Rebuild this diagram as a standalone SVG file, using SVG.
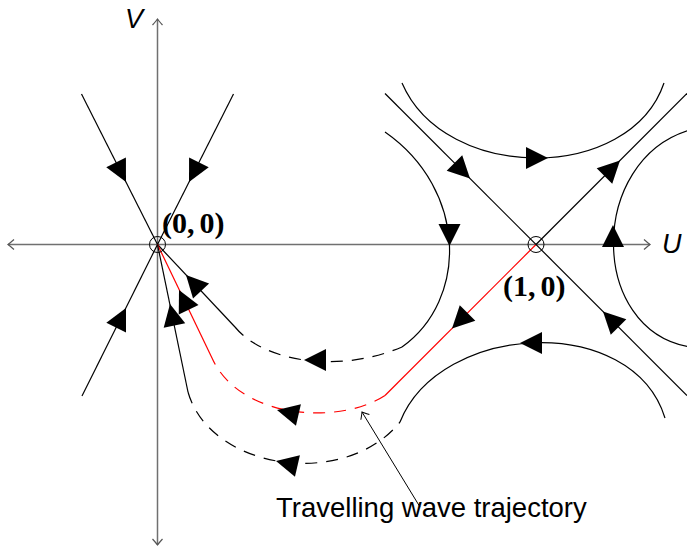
<svg xmlns="http://www.w3.org/2000/svg" xmlns:xlink="http://www.w3.org/1999/xlink" width="687" height="548" viewBox="0 0 687 548">
<style>
.axis{stroke:#707070;stroke-width:1.5;fill:none}
.traj{stroke:#000;stroke-width:1.2;fill:none}
.red{stroke:#ff0000;stroke-width:1.2;fill:none}
.dash{stroke-dasharray:12 9}
.eq{stroke:#000;stroke-width:1;fill:none}
.lbl{font-family:"Liberation Serif","Times New Roman",serif;font-weight:bold;font-size:30px;fill:#000}
.var{font-family:"Liberation Sans",Arial,sans-serif;font-style:italic;font-size:27px;fill:#000}
.note{font-family:"Liberation Sans",Arial,sans-serif;font-size:27.5px;fill:#000}
.ah{fill:#000}
</style>
<defs>
<path id="ah" class="ah" d="M0,0 L-22,-11 L-22,11 Z"/>
<marker id="to" markerUnits="userSpaceOnUse" markerWidth="14" markerHeight="14" refX="0" refY="0" viewBox="-8 -7 10 14" orient="auto-start-reverse">
<path d="M-6,-5 Q-1.5,-1 0,0 Q-1.5,1 -6,5" fill="none" stroke="#555" stroke-width="1.2"/>
</marker>
<marker id="toB" markerUnits="userSpaceOnUse" markerWidth="14" markerHeight="14" refX="0" refY="0" viewBox="-8 -7 10 14" orient="auto">
<path d="M-6,-5 Q-1.5,-1 0,0 Q-1.5,1 -6,5" fill="none" stroke="#000" stroke-width="1"/>
</marker>
</defs>
<rect width="687" height="548" fill="#fff"/>
<g id="axes">
<line class="axis" x1="8" y1="244.5" x2="650" y2="244.5" marker-start="url(#to)" marker-end="url(#to)"/>
<line class="axis" x1="157.5" y1="545" x2="157.5" y2="19" marker-start="url(#to)" marker-end="url(#to)"/>
<text class="var" x="125" y="28">V</text>
<text class="var" x="662" y="253">U</text>
</g>
<g id="connectors">
<!-- lines into origin -->
<path class="traj" d="M81.5,94 L157.5,244.5"/>
<path class="traj" d="M233.5,94 L157.5,244.5"/>
<path class="traj" d="M82,396 L157.5,244.5"/>
<!-- inner trajectory -->
<path class="traj" d="M157.5,244.5 L235,327"/>
<path class="traj dash" d="M235,327 C262,360 335,375 402,347"/>
<path class="traj" d="M385,132 C468,190 468,300 402,347"/>
<!-- travelling wave (red) -->
<path class="red" d="M536,244.5 L385,395.5"/>
<path class="red dash" d="M385,395.5 C340,425 240,420 212,358"/>
<path class="red" d="M212,358 L157.5,244.5"/>
<!-- outer trajectory -->
<path class="traj" d="M157.5,244.5 L188,392"/>
<path class="traj dash" d="M188,392 C210,470 345,490 400,422"/>
<path class="traj" d="M400,422 C440,322 632,312 665,418"/>
<!-- saddle manifolds -->
<path class="traj" d="M385,93.5 L687,395.5"/>
<path class="traj" d="M536,244.5 L687,93.5"/>
<!-- hyperbolae -->
<path class="traj" d="M402,83 C445,183 630,183 664,83"/>
<path class="traj" d="M690,130 C588,160 588,330 690,347"/>
<!-- arrowheads -->
<use xlink:href="#ah" transform="translate(126,182) rotate(63.2)"/>
<use xlink:href="#ah" transform="translate(189,182) rotate(116.8)"/>
<use xlink:href="#ah" transform="translate(126,308) rotate(-63.5)"/>
<use xlink:href="#ah" transform="translate(186,275) rotate(-133.2)"/>
<use xlink:href="#ah" transform="translate(304,360) rotate(180)"/>
<use xlink:href="#ah" transform="translate(179,290) rotate(-116)"/>
<use xlink:href="#ah" transform="translate(277,410) rotate(-167)"/>
<use xlink:href="#ah" transform="translate(452,328.5) rotate(135)"/>
<use xlink:href="#ah" transform="translate(170,304) rotate(-101.7)"/>
<use xlink:href="#ah" transform="translate(276,461) rotate(-167)"/>
<use xlink:href="#ah" transform="translate(548,158) rotate(0)"/>
<use xlink:href="#ah" transform="translate(449.5,246) rotate(90)"/>
<use xlink:href="#ah" transform="translate(613,225) rotate(-90)"/>
<use xlink:href="#ah" transform="translate(520,343) rotate(180)"/>
<use xlink:href="#ah" transform="translate(470,178.5) rotate(45)"/>
<use xlink:href="#ah" transform="translate(603,311.5) rotate(-135)"/>
<use xlink:href="#ah" transform="translate(620,160.5) rotate(-45)"/>
<!-- label pointer -->
<line x1="420" y1="507" x2="362" y2="412" stroke="#000" stroke-width="1" marker-end="url(#toB)"/>
</g>
<g id="eq00">
<circle class="eq" cx="157.5" cy="244.5" r="8"/>
<text class="lbl" x="162" y="233">(0,<tspan dx="5">0</tspan>)</text>
</g>
<g id="eq10">
<circle class="eq" cx="536" cy="244.5" r="8"/>
<text class="lbl" x="503" y="296">(1,<tspan dx="5">0</tspan>)</text>
</g>
<g id="label">
<text class="note" x="276" y="517">Travelling wave trajectory</text>
</g>
</svg>
